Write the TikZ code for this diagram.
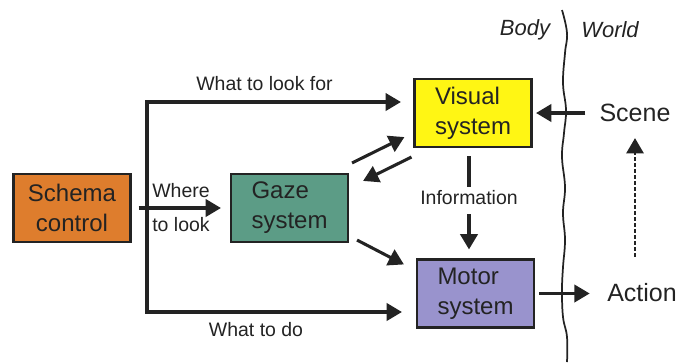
\documentclass[tikz,border=0pt]{standalone}
\usepackage{fontspec}
\setmainfont{Liberation Sans}
\usetikzlibrary{arrows.meta,calc}
\definecolor{orangebox}{RGB}{222,125,45}
\definecolor{gazecol}{RGB}{92,156,134}
\definecolor{viscol}{RGB}{255,246,20}
\definecolor{motorcol}{RGB}{153,147,205}
\definecolor{ink}{RGB}{35,35,35}
\begin{document}
\begin{tikzpicture}[x=0.75pt,y=-0.75pt,
  box/.style={draw=ink, line width=1.6pt, minimum width=87.75pt, minimum height=51pt,
    inner sep=0pt, font=\fontsize{18}{22.5}\selectfont, text=ink},
  lbl/.style={font=\fontsize{14.6}{26}\selectfont, inner sep=0pt, text=ink},
  big/.style={font=\fontsize{18.75}{22}\selectfont, inner sep=0pt, text=ink},
  bw/.style={font=\fontsize{16.5}{20}\selectfont\itshape, inner sep=0pt, text=ink},
  ln/.style={line width=2.3pt, draw=ink},
  arr/.style={line width=2.3pt, draw=ink, -{Triangle[length=11.5pt,width=13pt]}},
  line join=miter]
\useasboundingbox (0,0) rectangle (680,362);

% boxes
\node[box, fill=orangebox, align=center] (schema) at (72,208) {Schema\\control};
\node[box, fill=gazecol, align=left] (gaze) at (289.5,208) {Gaze\\system};
\node[box, fill=viscol, align=left] (visual) at (473,113) {Visual\\system};
\node[box, fill=motorcol, align=left] (motor) at (475.5,293.5) {Motor\\system};

% labels
\node[lbl] (lookfor) at (264.5,84) {What to look for};
\node[lbl, align=left] (where) at (181,207.5) {Where\\to look};
\node[lbl] (todo) at (256,330) {What to do};
\node[lbl] (info) at (469,198) {Information};
\node[big] (scene) at (635,113) {Scene};
\node[big] (action) at (642,293) {Action};
\node[bw] (body) at (525,30) {Body};
\node[bw] (world) at (610,30) {World};

% bus from schema control
\coordinate (busT) at (147,102);
\coordinate (busB) at (147,312);
\draw[arr, shorten >=9.4pt] (busB) -- (busT) -- (busT -| visual.west);
\draw[arr, shorten >=10.5pt] (busT) -- (busB) -- (busB -| motor.west);
\draw[arr, shorten <=5.25pt, shorten >=6.75pt] (schema.east) -- (gaze.west);

% gaze <-> visual, gaze -> motor
\draw[arr] ($(gaze.north east)+(3,-10)$) -- ($(visual.south west)+(-9,-11)$);
\draw[arr] ($(visual.south west)+(-2,9)$) -- ($(gaze.north east)+(14,8)$);
\draw[arr] ($(gaze.south east)+(8,-3)$) -- ($(motor.north west)+(-12,6)$);

% information
\draw[ln, shorten <=6pt, shorten >=3pt] (visual.south -| info) -- (info.north);
\draw[arr, shorten <=6.75pt, shorten >=6.75pt] (info.south) -- (info.south |- motor.north);

% world side
\draw[arr, shorten >=2.6pt] ([xshift=-10.5pt]scene.west) -- (visual.east |- scene.west);
\draw[arr, shorten <=3pt, shorten >=13pt] (motor.east) -- (motor.east -| action.west);
\draw[line width=1.6pt, draw=ink, -{Triangle[length=11.5pt,width=13pt]},
  dash pattern=on 3pt off 1.5pt, shorten <=20pt, shorten >=12pt]
  (scene.south |- action.north) -- (scene.south);

% body / world boundary
\draw[line width=1.3pt, draw=ink] plot[smooth, tension=0.7] coordinates {
  (562,10) (567,33) (565,53) (563,83) (566,110) (564,133) (562,157) (565,187)
  (563,213) (565,240) (563,267) (562,290) (563,317) (567,337) (567,362)};
\end{tikzpicture}
\end{document}
